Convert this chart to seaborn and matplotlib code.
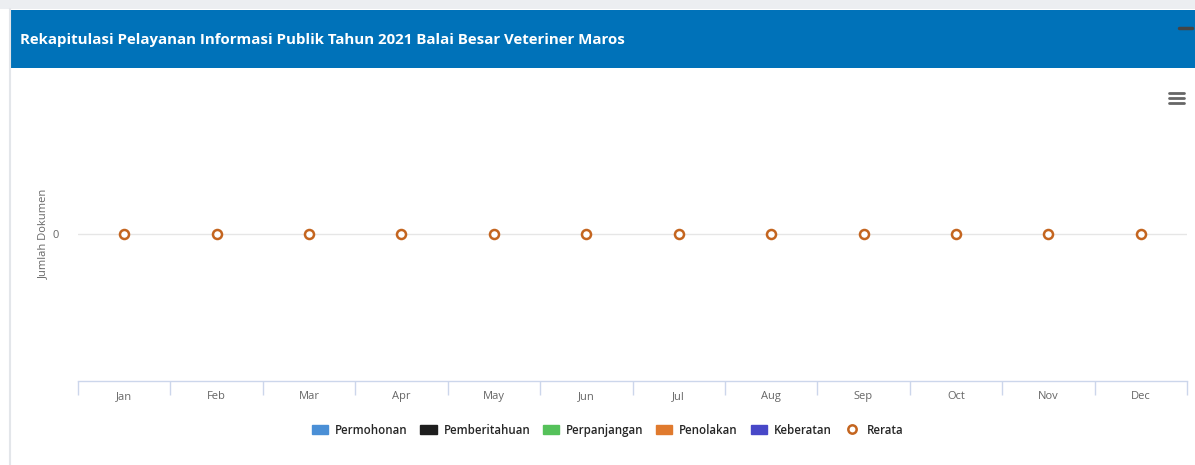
import matplotlib
matplotlib.use('Agg')
import matplotlib.pyplot as plt
import matplotlib.patches as mpatches
from matplotlib.lines import Line2D
import pandas as pd
import seaborn as sns

# data (all months are 0)
bulan = ['Jan', 'Feb', 'Mar', 'Apr', 'May', 'Jun', 'Jul', 'Aug', 'Sep', 'Oct', 'Nov', 'Dec']
permohonan = [0] * 12
pemberitahuan = [0] * 12
perpanjangan = [0] * 12
penolakan = [0] * 12
keberatan = [0] * 12
rerata = [0] * 12

seri = ['Permohonan', 'Pemberitahuan', 'Perpanjangan', 'Penolakan', 'Keberatan']
warna = ['#4a8fd6', '#1e1e1e', '#55c15a', '#e07a2e', '#4848c8']
warna_rerata = '#c4651f'

rows = []
for nama, vals in zip(seri, [permohonan, pemberitahuan, perpanjangan, penolakan, keberatan]):
    for b, v in zip(bulan, vals):
        rows.append({'bulan': b, 'seri': nama, 'nilai': v})
df = pd.DataFrame(rows)
df_rerata = pd.DataFrame({'bulan': bulan, 'nilai': rerata})

sns.set_style('white')
plt.rcParams['font.family'] = ['Open Sans', 'DejaVu Sans']

W, H = 1195, 465
fig = plt.figure(figsize=(W / 100, H / 100), dpi=100)
fig.patch.set_facecolor('white')

# page frame + blue header
fig.add_artist(mpatches.Rectangle((0, 1 - 9 / H), 1, 9 / H, transform=fig.transFigure,
                                  color='#eceef1', lw=0))
fig.add_artist(Line2D([9.5 / W, 9.5 / W], [0, 1 - 9 / H], transform=fig.transFigure,
                      color='#e3e6ea', lw=1.5))
fig.add_artist(mpatches.Rectangle((10 / W, 1 - 68 / H), 1 - 10 / W, 58 / H,
                                  transform=fig.transFigure, color='#0072b9', lw=0))
fig.text(20 / W, 1 - 40 / H, 'Rekapitulasi Pelayanan Informasi Publik Tahun 2021 Balai Besar Veteriner Maros',
         color='white', fontsize=10.8, fontweight='bold', va='center', ha='left')
# minimise button and menu icon
fig.add_artist(Line2D([1179 / W, 1192 / W], [1 - 28 / H] * 2, transform=fig.transFigure,
                      color='#444444', lw=2.5))
for yy in [93, 98, 103]:
    fig.add_artist(Line2D([1169 / W, 1184 / W], [1 - yy / H] * 2, transform=fig.transFigure,
                          color='#666666', lw=2))

ax = fig.add_axes([78 / W, 1 - 381 / H, (1187 - 78) / W, (381 - 87) / H])
ax.set_facecolor('white')

sns.barplot(data=df, x='bulan', y='nilai', hue='seri', palette=warna, linewidth=0,
            legend=False, ax=ax)
sns.pointplot(data=df_rerata, x='bulan', y='nilai', linestyle='none', marker='o',
              color=warna_rerata, markersize=6.5, markerfacecolor='white',
              markeredgewidth=1.8, errorbar=None, ax=ax, zorder=5)

ax.set_ylim(-1, 1)
ax.set_xlim(-0.5, 11.5)
ax.set_yticks([0])
ax.set_yticklabels(['0'])
ax.grid(axis='y', color='#e6e6e6', lw=1)
ax.set_axisbelow(True)
for s in ['top', 'right', 'left']:
    ax.spines[s].set_visible(False)
ax.spines['bottom'].set_color('#ccd6eb')
ax.spines['bottom'].set_linewidth(1)

ax.set_xticks(range(12))
ax.set_xticklabels(bulan)
ax.set_xticks([i - 0.5 for i in range(13)], minor=True)
ax.tick_params(axis='x', which='major', bottom=True, length=0, pad=7, labelsize=8,
               labelcolor='#666666')
ax.tick_params(axis='x', which='minor', bottom=True, direction='out', length=10, width=1,
               color='#ccd6eb')
ax.tick_params(axis='y', length=0, pad=14, labelsize=8, labelcolor='#666666')
ax.set_xlabel('')
ax.set_ylabel('Jumlah Dokumen', fontsize=8, color='#666666')
ax.yaxis.set_label_coords((49 - 78) / (1187 - 78), 0.5)

handles = [mpatches.Patch(color=c, label=n) for n, c in zip(seri, warna)]
handles.append(Line2D([], [], ls='none', marker='o', markersize=6, markerfacecolor='white',
                      markeredgecolor=warna_rerata, markeredgewidth=1.8, label='Rerata'))
fig.legend(handles=handles, loc='center', bbox_to_anchor=(608 / W, 1 - 430 / H), ncol=6,
           frameon=False, handlelength=1.4, handleheight=0.9,
           columnspacing=1.1, handletextpad=0.6,
           prop={'weight': 'semibold', 'size': 8.3})

fig.savefig('out.png', dpi=100, facecolor='white')
